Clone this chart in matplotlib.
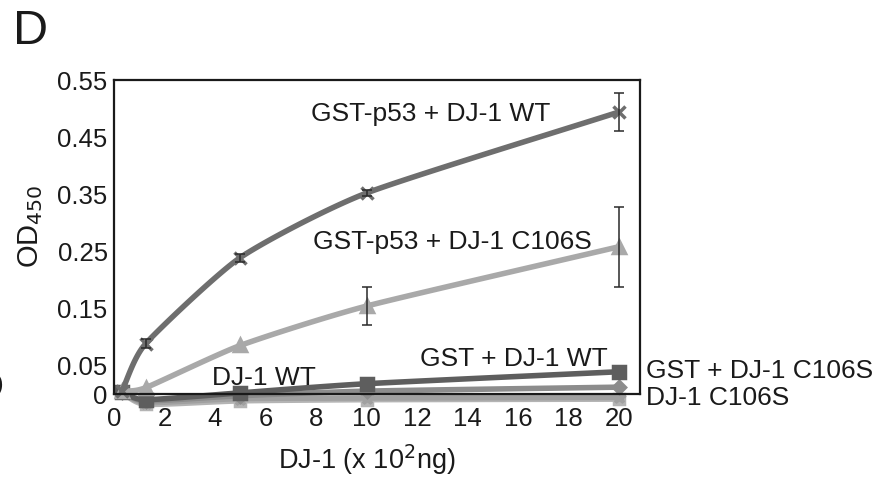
import numpy as np
import matplotlib
matplotlib.use("Agg")
import matplotlib.pyplot as plt

plt.rcParams['font.family'] = ['Liberation Sans', 'DejaVu Sans']

# DJ-1 amount (x 10^2 ng)
dose = [0.3125, 1.25, 5, 10, 20]

p53_wt = [0.005, 0.088, 0.239, 0.352, 0.494]
p53_wt_err = [0.0, 0.008, 0.007, 0.005, 0.033]
p53_c106s = [0.005, 0.011, 0.085, 0.154, 0.258]
p53_c106s_err = [0.0, 0.0, 0.0, 0.033, 0.070]
gst_wt = [0.003, -0.010, 0.002, 0.018, 0.039]
gst_c106s = [0.003, -0.012, -0.003, 0.005, 0.012]
dj1_wt = [0.003, -0.015, -0.008, -0.007, -0.006]
dj1_c106s = [0.003, -0.018, -0.012, -0.010, -0.009]

yticks = [0, 0.05, 0.15, 0.25, 0.35, 0.45, 0.55]
ytick_labels = ["0", "0.05", "0.15", "0.25", "0.35", "0.45", "0.55"]
xticks = [0, 2, 4, 6, 8, 10, 12, 14, 16, 18, 20]


def smooth(x, y, n=30):
    # Catmull-Rom style smoothing between the measured points
    x = np.asarray(x, float)
    y = np.asarray(y, float)
    px = np.concatenate([[2 * x[0] - x[1]], x, [2 * x[-1] - x[-2]]])
    py = np.concatenate([[2 * y[0] - y[1]], y, [2 * y[-1] - y[-2]]])
    xs, ys = [], []
    for i in range(1, len(px) - 2):
        t = np.linspace(0, 1, n)
        x0, x1, x2, x3 = px[i - 1:i + 3]
        y0, y1, y2, y3 = py[i - 1:i + 3]
        m1x, m2x = (x2 - x0) / 2 * 0.6, (x3 - x1) / 2 * 0.6
        m1y, m2y = (y2 - y0) / 2 * 0.6, (y3 - y1) / 2 * 0.6
        h00 = 2 * t**3 - 3 * t**2 + 1
        h10 = t**3 - 2 * t**2 + t
        h01 = -2 * t**3 + 3 * t**2
        h11 = t**3 - t**2
        xs.append(h00 * x1 + h10 * m1x + h01 * x2 + h11 * m2x)
        ys.append(h00 * y1 + h10 * m1y + h01 * y2 + h11 * m2y)
    return np.concatenate(xs), np.concatenate(ys)


fig = plt.figure(figsize=(8.77, 4.8), dpi=100)
ax = fig.add_axes([114 / 877, 86 / 480, 526 / 877, 314 / 480])

series = [
    (dj1_c106s, '#b4b4b4', 's', 7),
    (dj1_wt, '#a0a0a0', '*', 9),
    (gst_c106s, '#8c8c8c', 'D', 6),
    (gst_wt, '#5e5e5e', 's', 8),
    (p53_c106s, '#a9a9a9', '^', 9),
    (p53_wt, '#6e6e6e', 'x', 9),
]
for vals, col, mk, ms in series:
    sx, sy = smooth(dose, vals)
    ax.plot(sx, sy, color=col, lw=4.0, clip_on=False, zorder=2,
            solid_capstyle='round')
    ax.plot(dose, vals, linestyle='none', marker=mk, ms=ms, color=col,
            mew=2.5, clip_on=False, zorder=2)

ax.errorbar(dose[1:], p53_wt[1:], yerr=p53_wt_err[1:], fmt='none',
            ecolor='#2a2a2a', elinewidth=1.1, capsize=3.5, capthick=1.1, zorder=3)
ax.errorbar(dose[3:], p53_c106s[3:], yerr=p53_c106s_err[3:], fmt='none',
            ecolor='#2a2a2a', elinewidth=1.1, capsize=3.5, capthick=1.1, zorder=3)

ax.set_xlim(0, 20.83)
ax.set_ylim(0, 0.55)
ax.set_xticks(xticks)
ax.set_yticks(yticks)
ax.set_yticklabels(ytick_labels)
ax.tick_params(length=0, labelsize=18.5, colors='#1a1a1a')
ax.tick_params(axis='x', pad=9)
ax.tick_params(axis='y', pad=4.5)
for sp in ax.spines.values():
    sp.set_linewidth(1.6)
    sp.set_color('#1a1a1a')
    sp.set_zorder(4)

fig.text(367 / 877, 1 - 460 / 480, "DJ-1 (x 10$^{2}$ng)", fontsize=19.5,
         ha='center', va='center', color='#1a1a1a')
fig.text(31 / 877, 1 - 226 / 480, "OD$_{450}$", fontsize=21, rotation=90,
         ha='center', va='center', color='#1a1a1a')

txt = dict(fontsize=19, color='#1a1a1a', va='center')
ax.text(7.8, 0.49, "GST-p53 + DJ-1 WT", **txt)
ax.text(7.9, 0.266, "GST-p53 + DJ-1 C106S", **txt)
ax.text(12.1, 0.062, "GST + DJ-1 WT", **txt)
ax.text(3.9, 0.028, "DJ-1 WT", **txt)
ax.text(21.05, 0.041, "GST + DJ-1 C106S", **txt, clip_on=False)
ax.text(21.05, -0.007, "DJ-1 C106S", **txt, clip_on=False)

fig.text(13 / 877, 1 - 31 / 480, "D", fontsize=35, va='center', color='#1a1a1a')
# edge of the neighbouring panel letter
fig.text(-25 / 877, 1 - 388 / 480, "D", fontsize=29, va='center', color='#1a1a1a')

fig.savefig("out.png", dpi=100)
